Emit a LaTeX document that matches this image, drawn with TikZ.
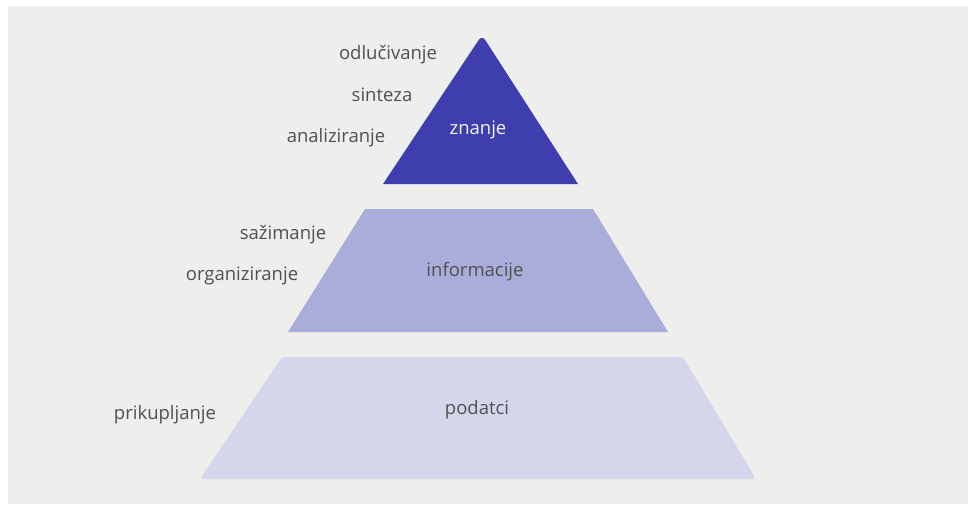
\documentclass[tikz,border=0pt]{standalone}
\usepackage{fontspec}
\setmainfont{Open Sans}
\usepackage{tikz}

\definecolor{paper}{RGB}{238,238,237}
\definecolor{levelTop}{RGB}{62,62,174}
\definecolor{levelMid}{RGB}{170,172,218}
\definecolor{levelLow}{RGB}{213,214,236}
\definecolor{labelGray}{RGB}{80,80,80}

\begin{document}
\begin{tikzpicture}[x=1pt,y=-1pt,
    stage/.style={text=labelGray, inner sep=0pt, anchor=base, font=\fontsize{18.5}{21}\selectfont},
    level/.style={stage, text=#1}]
    \useasboundingbox (0,0) rectangle (968,504);
    \fill[white] (0,0) rectangle (968,504);
    \fill[paper] (8,6) rectangle (968,504);

    % the three levels of the pyramid
    \def\levelOne{(200,479) [rounded corners=3pt] -- (282,357) -- (683,357) -- (756,479) -- cycle}
    \def\levelTwo{(288,332) -- (365,209) -- (593,209) -- (668,332) -- cycle}
    \def\levelThree{(383,184) [rounded corners=6pt] -- (482,35) [sharp corners] -- (578,184) -- cycle}
    \fill[levelLow] \levelOne;
    \fill[levelMid] \levelTwo;
    \fill[levelTop] \levelThree;

    \node[level=white!88!levelMid] (znanje) at (478,134) {znanje};
    \node[level=labelGray] (informacije) at (475,276) {informacije};
    \node[level=labelGray] (podatci) at (477,414) {podatci};

    % what is done at each level
    \node[stage] (odlucivanje) at (388,59) {odlučivanje};
    \node[stage] (sinteza) at (382,101) {sinteza};
    \node[stage] (analiziranje) at (336,142) {analiziranje};
    \node[stage] (sazimanje) at (283,239) {sažimanje};
    \node[stage] (organiziranje) at (242,280) {organiziranje};
    \node[stage] (prikupljanje) at (165,419) {prikupljanje};
\end{tikzpicture}
\end{document}
